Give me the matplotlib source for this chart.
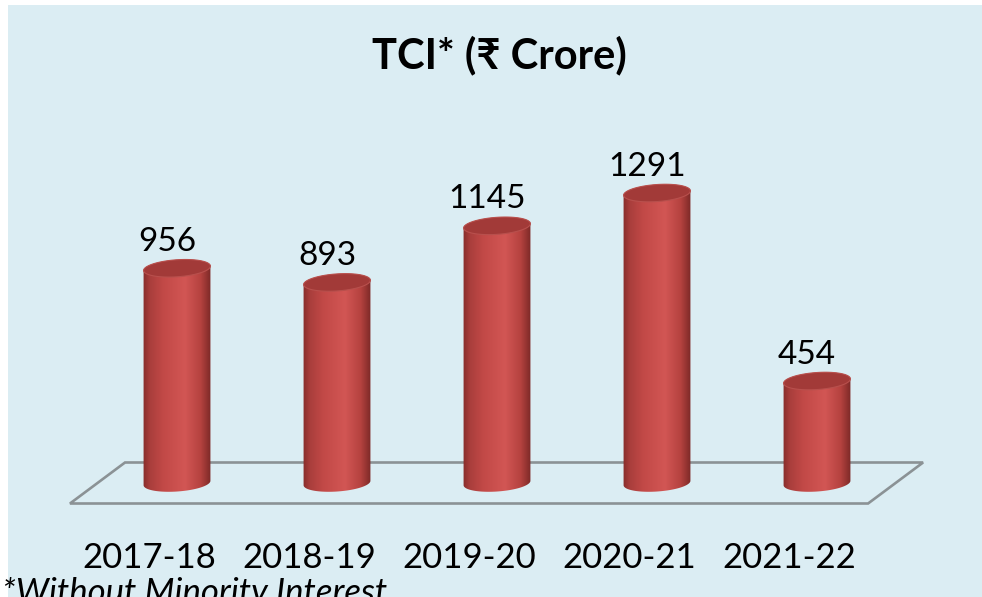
import numpy as np
import matplotlib.pyplot as plt
from matplotlib.patches import Polygon, Rectangle
from matplotlib.colors import LinearSegmentedColormap

# data
years = ['2017-18', '2018-19', '2019-20', '2020-21', '2021-22']
tci = [956, 893, 1145, 1291, 454]

title = 'TCI* (\u20b9 Crore)'
note = '*Without Minority Interest'

FONT = ['Lato', 'DejaVu Sans']
W, H = 982, 597

fig = plt.figure(figsize=(W / 100, H / 100), dpi=100)
fig.patch.set_facecolor('white')
fig.patches.append(Rectangle((8 / W, 0), 1, 1 - 5 / H, transform=fig.transFigure,
                             facecolor='#DBEDF3', edgecolor='none', zorder=0))

ax = fig.add_axes([0, 0, 1, 1])
ax.set_zorder(2)
ax.set_facecolor('none')
ax.axis('off')

# pixel scale of the axes: one category = 160 px, one crore = 0.2246 px
sx, sy = 160.0, 0.2246
x0, y0 = 177, 483


def ellipse(cx, cy, t):
    a, b, phi = 33.5, 8.5, np.radians(4)
    dx = a * np.cos(t) * np.cos(phi) - b * np.sin(t) * np.sin(phi)
    dy = a * np.cos(t) * np.sin(phi) + b * np.sin(t) * np.cos(phi)
    return np.column_stack([cx + dx / sx, cy + dy / sy])


# floor (3d base plane)
depth = 41 / 2
shift = 55 / sx
left, right = -0.325, 4.663
floor = Polygon([[left, depth / sy], [right, depth / sy],
                 [right - shift, -depth / sy], [left - shift, -depth / sy]],
                closed=True, facecolor='none', edgecolor='#8B9295', lw=1.9, zorder=1)
ax.add_patch(floor)

cmap = LinearSegmentedColormap.from_list('cyl', [
    (0.0, '#862D2B'), (0.10, '#A93E3C'), (0.30, '#C24947'),
    (0.62, '#D25654'), (0.85, '#B5423F'), (1.0, '#7C2927')])
grad = np.linspace(0, 1, 256).reshape(1, -1)

for i, v in enumerate(tci):
    lower = ellipse(i, 0, np.linspace(np.pi, 2 * np.pi, 60))
    upper = ellipse(i, v, np.linspace(0, np.pi, 60))
    body = Polygon(np.vstack([lower, upper]), closed=True,
                   facecolor='none', edgecolor='none', zorder=2)
    ax.add_patch(body)
    rw = 34 / sx
    img = ax.imshow(grad, cmap=cmap, aspect='auto', zorder=2,
                    extent=[i - rw, i + rw, -20 / sy, v + 20 / sy])
    img.set_clip_path(body)
    top = Polygon(ellipse(i, v, np.linspace(0, 2 * np.pi, 80)), closed=True,
                  facecolor='#A23A38', edgecolor='#B8504D', lw=0.8, zorder=3)
    ax.add_patch(top)
    ax.text(i - 10 / sx, v + 17.5 / sy, str(v), ha='center', va='baseline',
            fontsize=24, family=FONT, color='black', zorder=4)

for i, lab in enumerate(years):
    ax.text(i - 28 / sx, -85 / sy, lab, ha='center', va='baseline',
            fontsize=25, family=FONT, color='black')

ax.set_xlim(-x0 / sx, (W - x0) / sx)
ax.set_ylim((y0 - H) / sy, y0 / sy)

fig.text(499 / W, 1 - 68 / H, title, ha='center', va='baseline',
         fontsize=30, fontweight='bold', family=FONT, zorder=3)
fig.text(2 / W, 1 - 603 / H, note, ha='left', va='baseline',
         fontsize=25, style='italic', family=FONT, zorder=3)

fig.savefig('out.png', dpi=100)
